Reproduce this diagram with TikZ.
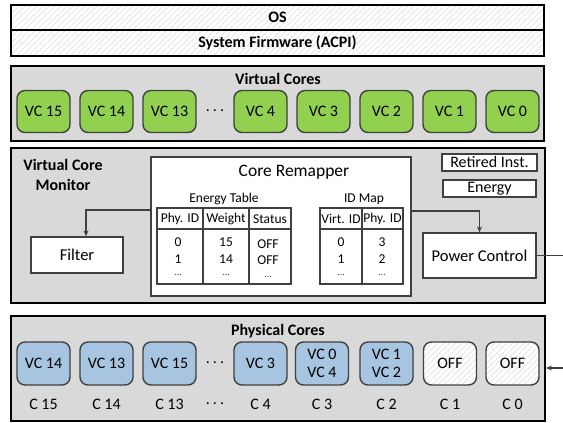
\documentclass[tikz,border=0pt]{standalone}
\usepackage{fontspec}
\setmainfont{Carlito}
\usetikzlibrary{arrows.meta,patterns.meta}

\definecolor{vgreen}{HTML}{92D050}
\definecolor{pblue}{HTML}{A7C4E0}
\definecolor{panel}{HTML}{D9D9D9}
\definecolor{edge}{HTML}{404040}

\newcommand{\fsz}[1]{\fontsize{#1}{#1}\selectfont}

\tikzset{
  hatch/.style={pattern={Lines[angle=45,distance=4pt,line width=0.5pt]}, pattern color=gray!38},
  layer/.style={draw=black, line width=1.8pt, hatch, minimum width=533pt, inner sep=0pt, font=\fsz{16}\bfseries},
  panelbox/.style={draw=black, line width=1.8pt, fill=panel, inner sep=0pt},
  core/.style={draw=edge, line width=1.4pt, rounded corners=8pt, minimum width=53pt,
               minimum height=42pt, inner sep=0pt, align=center, font=\fontsize{16}{18.5}\selectfont},
  vcore/.style={core, fill=vgreen},
  pcore/.style={core, fill=pblue, minimum height=43pt},
  offcore/.style={core, minimum height=43pt, preaction={fill=white}, hatch},
  wbox/.style={draw=edge, line width=1.3pt, fill=white, inner sep=0pt},
  tbl/.style={draw=edge, line width=1.4pt, fill=white, inner sep=0pt},
  head/.style={font=\fsz{16}\bfseries, inner sep=0pt},
  cell/.style={font=\fsz{13.5}, inner sep=0pt},
  dotcell/.style={font=\fsz{10}, text=edge, inner sep=0pt},
  clabel/.style={font=\fsz{16}, inner sep=0pt},
  arr/.style={-{Stealth[length=6pt,width=5pt]}, line width=1.2pt, draw=edge},
}

\begin{document}
\begin{tikzpicture}[x=1pt, y=-1pt]
\useasboundingbox (0,0) rectangle (563,423);

% software layers
\node[layer, minimum height=25pt] (os) at (277.5,17.5) {OS};
\node[layer, minimum height=26pt] (fw) at (277.5,43) {System Firmware (ACPI)};

% virtual cores
\node[panelbox, minimum width=533pt, minimum height=75pt] (vcp) at (277.5,103.5) {};
\node[head] (vct) at (278,79) {Virtual Cores};
\node[vcore] (v15) at (43.5,111.5) {VC 15};
\node[vcore] (v14) at (106.5,111.5) {VC 14};
\node[vcore] (v13) at (169.5,111.5) {VC 13};
\node[clabel] (vdots) at (215,111) {.\hspace{3pt}.\hspace{3pt}.};
\node[vcore] (v4) at (260.5,111.5) {VC 4};
\node[vcore] (v3) at (323.5,111.5) {VC 3};
\node[vcore] (v2) at (386.5,111.5) {VC 2};
\node[vcore] (v1) at (449.5,111.5) {VC 1};
\node[vcore] (v0) at (512.5,111.5) {VC 0};

% virtual core monitor
\node[panelbox, minimum width=534pt, minimum height=155pt] (vcm) at (278,225.5) {};
\node[head, align=center, font=\fontsize{16}{20}\selectfont\bfseries] (vcmt) at (63,175) {Virtual Core\\Monitor};
\node[wbox, minimum width=95pt, minimum height=17pt, font=\fsz{16}] (ri) at (489.5,162.5) {Retired Inst.};
\node[wbox, minimum width=93pt, minimum height=17pt, font=\fsz{16}] (en) at (489.5,188.5) {Energy};

% core remapper with its two tables
\node[wbox, line width=1.4pt, minimum width=260pt, minimum height=139pt] (remap) at (281,226.5) {};
\node[inner sep=0pt, font=\fsz{17.5}] (rmt) at (294,172) {Core Remapper};

\node[inner sep=0pt, font=\fsz{13.5}] (ett) at (224,199) {Energy Table};
\node[tbl, minimum width=134pt, minimum height=76pt] (et) at (224,246) {};
\draw[edge, line width=1.4pt] (et.west |- {(0,229)}) -- (et.east |- {(0,229)});
\draw[edge, line width=1.4pt] (et.north -| {(203,0)}) -- (et.south -| {(203,0)});
\draw[edge, line width=1.4pt] (et.north -| {(249,0)}) -- (et.south -| {(249,0)});
\node[cell] (eh1) at (180,219) {Phy. ID};
\node[cell] (eh2) at (226,219) {Weight};
\node[cell] (eh3) at (270,219) {Status};
\node[cell] (e10) at (178,242) {0};
\node[cell] (e11) at (178,259) {1};
\node[dotcell] (e12) at (178,275) {…};
\node[cell] (e20) at (226,242) {15};
\node[cell] (e21) at (226,259) {14};
\node[dotcell] (e22) at (226,275) {…};
\node[cell] (e30) at (268,244) {OFF};
\node[cell] (e31) at (268,260) {OFF};
\node[dotcell] (e32) at (268,277) {…};

\node[inner sep=0pt, font=\fsz{13.5}] (idt) at (364,199) {ID Map};
\node[tbl, minimum width=83pt, minimum height=76pt] (idm) at (361.5,246) {};
\draw[edge, line width=1.4pt] (idm.west |- {(0,229)}) -- (idm.east |- {(0,229)});
\draw[edge, line width=1.4pt] (idm.north -| {(362,0)}) -- (idm.south -| {(362,0)});
\node[cell] (ih1) at (341,219) {Virt. ID};
\node[cell] (ih2) at (382.5,219) {Phy. ID};
\node[cell] (i10) at (341,242) {0};
\node[cell] (i11) at (341,259) {1};
\node[dotcell] (i12) at (341,275) {…};
\node[cell] (i20) at (382,242) {3};
\node[cell] (i21) at (382,259) {2};
\node[dotcell] (i22) at (382,275) {…};

\node[wbox, minimum width=92pt, minimum height=36pt, font=\fsz{16.5}] (filt) at (77,255) {Filter};
\node[wbox, minimum width=113pt, minimum height=45pt, font=\fsz{16.5}] (pc) at (479.5,255.5) {Power Control};

% physical cores
\node[panelbox, minimum width=534pt, minimum height=105pt] (phys) at (278,368.5) {};
\node[head] (pct) at (278,331) {Physical Cores};
\node[pcore] (p15) at (43.5,363.5) {VC 14};
\node[pcore] (p14) at (106.5,363.5) {VC 13};
\node[pcore] (p13) at (169.5,363.5) {VC 15};
\node[clabel] (pdots) at (215,363) {.\hspace{3pt}.\hspace{3pt}.};
\node[pcore] (p4) at (260.5,363.5) {VC 3};
\node[pcore] (p3) at (322,363.5) {VC 0\\VC 4};
\node[pcore] (p2) at (386.5,363.5) {VC 1\\VC 2};
\node[offcore] (p1) at (450,363.5) {OFF};
\node[offcore] (p0) at (512.5,363.5) {OFF};

\node[clabel] (c15) at (43.5,404) {C 15};
\node[clabel] (c14) at (106.5,404) {C 14};
\node[clabel] (c13) at (169.5,404) {C 13};
\node[clabel] (cdots) at (215,404) {.\hspace{3pt}.\hspace{3pt}.};
\node[clabel] (c4) at (260.5,404) {C 4};
\node[clabel] (c3) at (322,404) {C 3};
\node[clabel] (c2) at (386.5,404) {C 2};
\node[clabel] (c1) at (450,404) {C 1};
\node[clabel] (c0) at (512.5,404) {C 0};

% connectors
\draw[arr] (remap.west |- {(0,210)}) -| ([xshift=9pt]filt.north);
\draw[arr] (remap.east |- {(0,211)}) -| (pc.north);
\draw[arr] (pc.east) -- ++(40,0) |- (phys.east |- {(0,368)});
\end{tikzpicture}
\end{document}
